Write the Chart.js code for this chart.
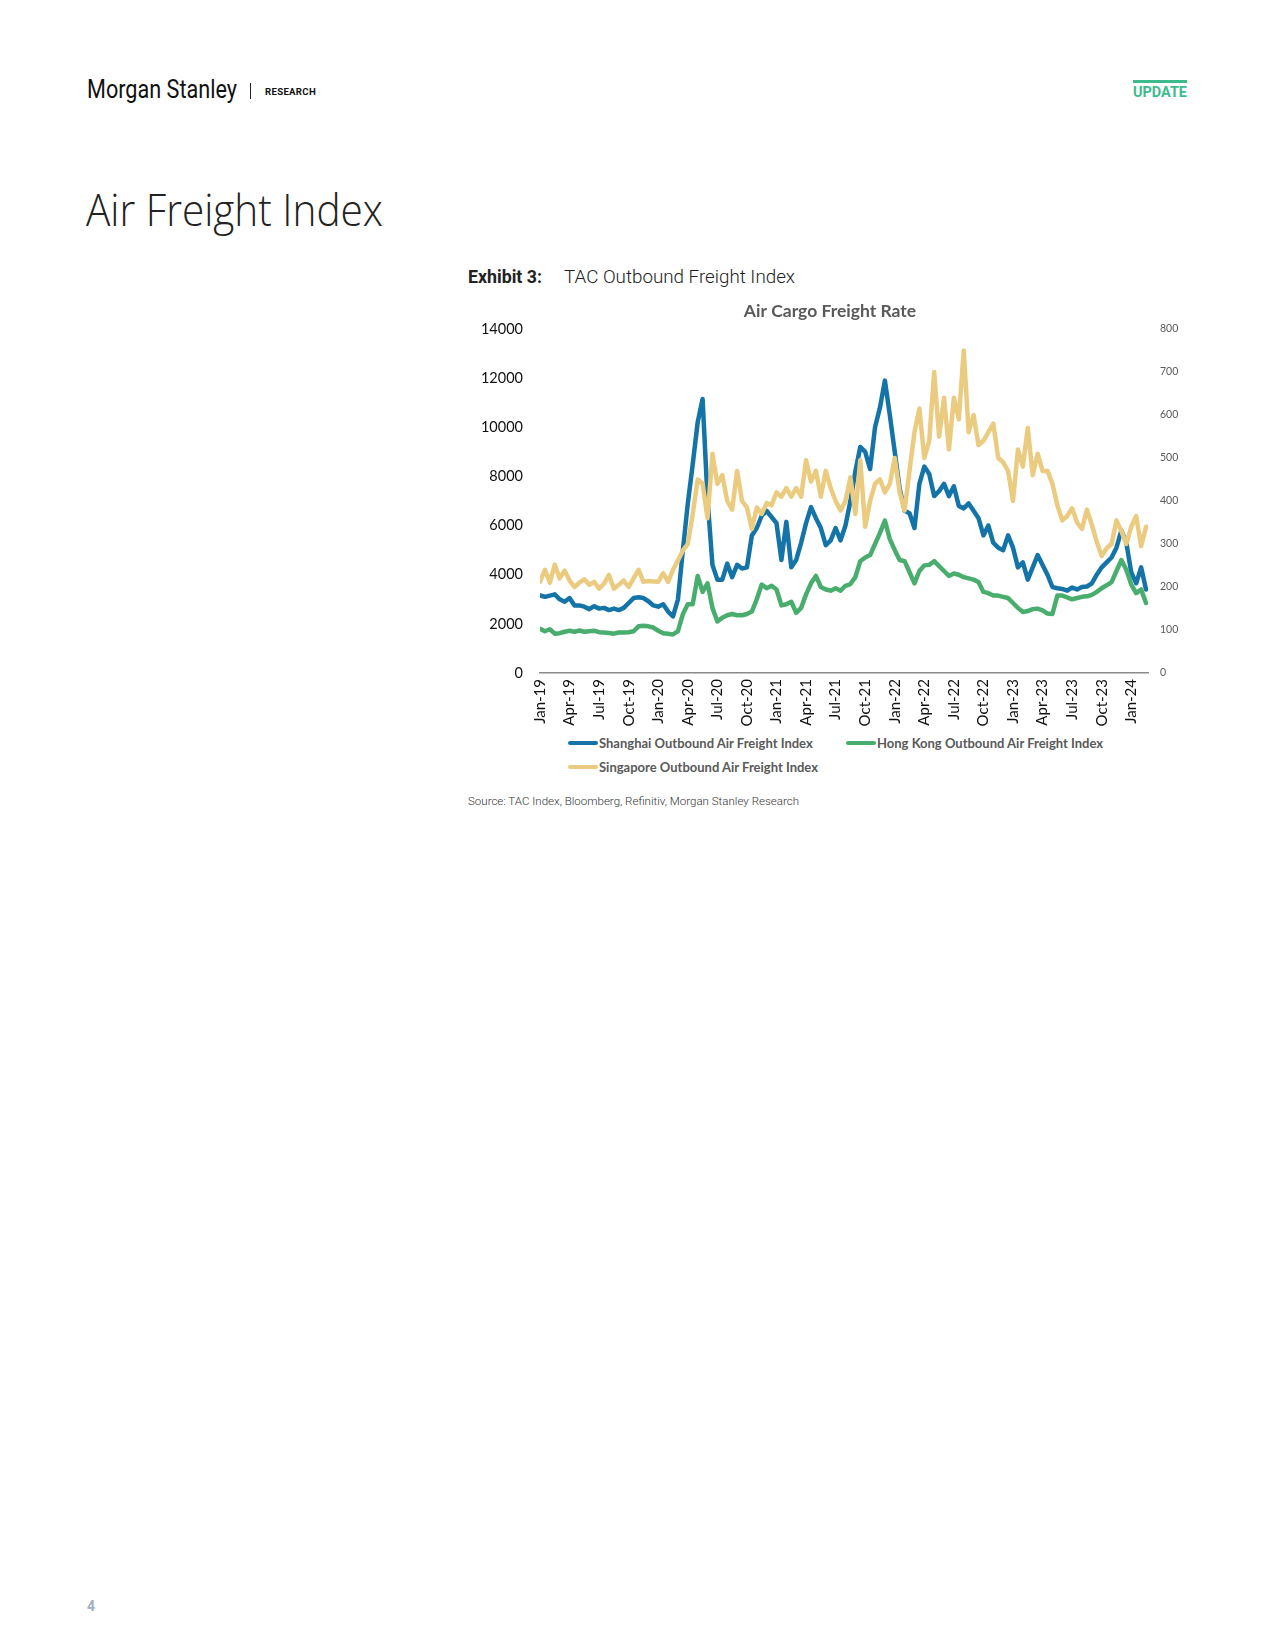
<!DOCTYPE html>
<html><head><meta charset="utf-8">
<script src="https://cdn.jsdelivr.net/npm/chart.js@4.4.1/dist/chart.umd.min.js"></script>
<style>
html,body{margin:0;padding:0;background:#fff;}
body{width:1275px;height:1650px;position:relative;overflow:hidden;font-family:Roboto,"Open Sans",sans-serif;}
.abs{position:absolute;white-space:nowrap;line-height:1;transform-origin:left center;}
#ms{left:87px;top:77px;font-family:Roboto;font-size:25px;color:#111;}
#sep{position:absolute;left:250px;top:83px;width:1px;height:16px;background:#222;}
#research{left:265px;top:86.5px;font-family:Roboto;font-weight:700;font-size:9.5px;letter-spacing:0.3px;color:#111;}
#updbar{position:absolute;left:1133px;top:80px;width:54px;height:3px;background:#3dbb8d;}
#update{left:1133px;top:84.5px;font-family:Roboto;font-weight:700;font-size:15px;color:#3dbb8d;}
#h1{left:86px;top:187px;font-family:"Open Sans";font-weight:300;font-size:44px;color:#222;}
#exh{left:468px;top:267.5px;font-family:Roboto;font-weight:700;font-size:18px;color:#222;}
#exht{left:564px;top:267.5px;font-family:Roboto;font-weight:300;font-size:18px;color:#222;}
#chartbox{position:absolute;left:460px;top:290px;width:740px;height:443px;}
.lg{position:absolute;height:16px;display:flex;align-items:center;white-space:nowrap;font-family:Lato;font-weight:700;font-size:13px;color:#595959;}
.lg i{display:inline-block;width:30px;height:4px;border-radius:2px;margin-right:1px;}
#source{left:468px;top:795.5px;font-family:Roboto;font-weight:300;font-size:11px;color:#333;}
#pg{left:87px;top:1599px;font-family:Roboto;font-weight:700;font-size:14px;color:#9eb0c1;}
</style>
</head>
<body>
<div id="ms" class="abs">Morgan Stanley</div>
<div id="sep"></div>
<div id="research" class="abs">RESEARCH</div>
<div id="updbar"></div>
<div id="update" class="abs">UPDATE</div>
<div id="h1" class="abs">Air Freight Index</div>
<div id="exh" class="abs">Exhibit 3:</div>
<div id="exht" class="abs">TAC Outbound Freight Index</div>
<div id="chartbox"><canvas id="c" width="740" height="443"></canvas></div>
<div id="legend"></div>
<div id="source" class="abs">Source: TAC Index, Bloomberg, Refinitiv, Morgan Stanley Research</div>
<div id="pg" class="abs">4</div>
<script>
// ---- data (sampled every half month starting Jan-19) ----
const chartTitle = 'Air Cargo Freight Rate';
const tickLabels = ['Jan-19','Apr-19','Jul-19','Oct-19','Jan-20','Apr-20','Jul-20','Oct-20','Jan-21','Apr-21','Jul-21','Oct-21','Jan-22','Apr-22','Jul-22','Oct-22','Jan-23','Apr-23','Jul-23','Oct-23','Jan-24'];
const seriesNames = ['Shanghai Outbound Air Freight Index','Hong Kong Outbound Air Freight Index','Singapore Outbound Air Freight Index'];
const monthStep = 0.5;
const shanghai = [
 3160,3100,3150,3200,3000,2900,3050,2750,2750,2700,2600,2720,2620,2650,2560,2620,2560,2650,2850,3050,
 3080,3050,2920,2750,2700,2800,2500,2300,3000,5000,6900,8500,10200,11150,7100,4400,3800,3800,4450,3900,
 4400,4250,4300,5600,5900,6400,6600,6350,6100,4600,6150,4300,4600,5300,6100,6750,6300,5900,5200,5400,
 5900,5400,6000,7000,8200,9200,9000,8300,10000,10800,11900,10500,9000,7500,6600,6500,5900,7700,8400,8100,
 7200,7400,7700,7200,7600,6800,6700,6900,6600,6300,5600,6000,5300,5100,5000,5600,5100,4300,4500,3800,
 4300,4800,4400,4000,3500,3450,3420,3350,3480,3400,3500,3520,3650,4000,4300,4500,4700,5100,5800,5300,
 4100,3650,4300,3400];
const hongKong = [
 1800,1700,1780,1600,1620,1680,1720,1680,1730,1680,1700,1720,1660,1650,1630,1600,1650,1650,1660,1700,
 1900,1920,1900,1850,1720,1620,1600,1570,1700,2400,2800,2800,3950,3300,3650,2650,2100,2250,2350,2400,
 2350,2350,2400,2500,3000,3600,3450,3550,3400,2750,2800,2900,2450,2650,3200,3650,3950,3500,3400,3350,
 3450,3350,3550,3620,3900,4550,4700,4800,5250,5700,6200,5450,5000,4600,4550,4100,3650,4150,4380,4400,
 4550,4350,4150,3950,4050,4000,3900,3850,3800,3700,3300,3250,3150,3150,3100,3050,2850,2650,2480,2520,
 2600,2620,2550,2420,2400,3150,3150,3080,3000,3050,3100,3120,3180,3300,3450,3570,3700,4150,4600,4200,
 3600,3250,3400,2850];
const singapore = [
 212,240,210,252,220,238,215,200,210,218,205,212,196,208,228,196,205,215,200,220,
 240,212,214,213,212,232,212,240,262,285,300,370,450,440,360,510,440,460,400,380,
 470,400,385,335,385,370,395,390,420,410,430,410,430,410,495,445,470,410,470,430,
 400,378,400,455,370,495,340,400,440,450,420,440,500,420,378,470,560,615,500,540,
 700,550,640,520,640,590,750,560,600,530,540,560,580,500,490,470,400,520,480,570,
 460,510,470,470,440,390,355,365,383,350,335,380,345,305,272,290,300,355,330,300,
 340,365,295,340];
const seriesColors = ['#1474a8','#48ad6d','#ebcb80'];

const toPoints = arr => arr.map((v, i) => ({x: i * monthStep, y: v}));

const chart = new Chart(document.getElementById('c').getContext('2d'), {
  type: 'line',
  data: {
    datasets: [
      {label: seriesNames[0], data: toPoints(shanghai), borderColor: seriesColors[0], backgroundColor: seriesColors[0], yAxisID: 'y', order: 2},
      {label: seriesNames[1], data: toPoints(hongKong), borderColor: seriesColors[1], backgroundColor: seriesColors[1], yAxisID: 'y', order: 1},
      {label: seriesNames[2], data: toPoints(singapore), borderColor: seriesColors[2], backgroundColor: seriesColors[2], yAxisID: 'y2', order: 0}
    ]
  },
  options: {
    responsive: false, animation: false, maintainAspectRatio: false,
    elements: {line: {borderWidth: 4.5, tension: 0, borderJoinStyle: 'round', borderCapStyle: 'round', fill: false}, point: {radius: 0}},
    plugins: {
      legend: {display: false}, tooltip: {enabled: false},
      title: {display: true, text: chartTitle, color: '#595959', font: {family: 'Lato', size: 17.5, weight: 'bold'}, padding: {top: 11, bottom: 7}}
    },
    scales: {
      x: {
        type: 'linear', min: 0, max: 61.7,
        afterBuildTicks: s => { s.ticks = tickLabels.map((_, i) => ({value: i * 3})); },
        ticks: {autoSkip: false, maxRotation: 90, minRotation: 90, padding: 6, color: '#111', font: {family: 'Lato', size: 15},
          callback: v => tickLabels[Math.round(v / 3)]},
        grid: {display: false, drawTicks: false},
        border: {display: true, color: '#8a8a8a', width: 1.5},
        afterFit: s => { s.height = 60; }
      },
      y: {
        position: 'left', min: 0, max: 14000,
        ticks: {stepSize: 2000, padding: 17, color: '#111', font: {family: 'Lato', size: 14.5}, callback: v => String(v)},
        grid: {display: false, drawTicks: false}, border: {display: false},
        afterFit: s => { s.width = 80; }
      },
      y2: {
        position: 'right', min: 0, max: 800,
        ticks: {stepSize: 100, padding: 12, color: '#595959', font: {family: 'Lato', size: 10.5}, callback: v => String(v)},
        grid: {display: false, drawTicks: false}, border: {display: false},
        afterFit: s => { s.width = 52; }
      }
    }
  }
});

// HTML legend built from the chart's datasets
const legendPos = [{left: 568, top: 735}, {left: 846, top: 735}, {left: 568, top: 759}];
const lg = document.getElementById('legend');
chart.data.datasets.forEach((ds, i) => {
  const d = document.createElement('div');
  d.className = 'lg';
  d.style.left = legendPos[i].left + 'px';
  d.style.top = legendPos[i].top + 'px';
  const sw = document.createElement('i');
  sw.style.background = ds.borderColor;
  d.appendChild(sw);
  d.appendChild(document.createTextNode(ds.label));
  lg.appendChild(d);
});

// fit condensed header texts to reference widths
function fit(id, w) {
  const el = document.getElementById(id);
  const r = el.getBoundingClientRect().width;
  if (r > 0) el.style.transform = 'scaleX(' + (w / r) + ')';
}
fit('ms', 150); fit('research', 51); fit('update', 54); fit('h1', 297);
fit('exh', 74); fit('exht', 231); fit('source', 331);
</script>
</body></html>
